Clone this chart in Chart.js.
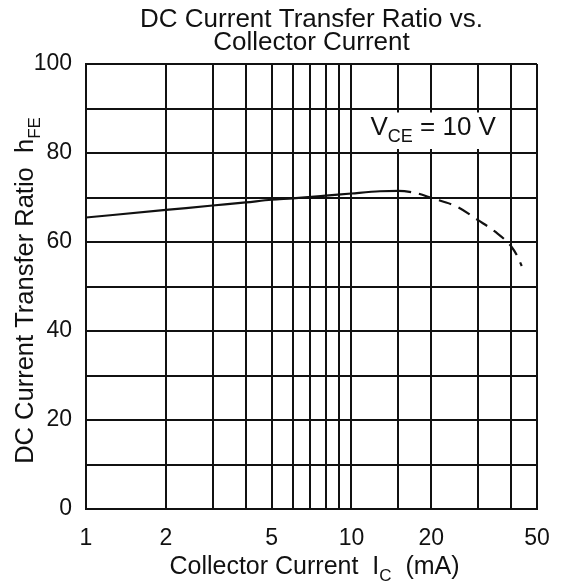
<!DOCTYPE html>
<html>
<head>
<meta charset="utf-8">
<script src="https://cdn.jsdelivr.net/npm/chart.js@4/dist/chart.umd.min.js"></script>
<style>
  html, body { margin: 0; padding: 0; background: #fff; }
  #wrap { width: 566px; height: 583px; }
</style>
</head>
<body>
<div id="wrap"><canvas id="c" width="566" height="583"></canvas></div>
<script>
// ---- data ----
const currentMA = [1, 2, 3, 4, 5, 6, 8, 10, 12.8, 15, 17.5, 20, 25, 30, 35, 40, 42, 43.8];
const hFE       = [65.5, 67.2, 68.2, 68.9, 69.5, 69.8, 70.4, 70.9, 71.4, 71.5, 71.0, 69.9, 67.9, 64.9, 62.2, 59.0, 57.0, 54.6];
const dashedFromMA = 15;
const xTickLabels = [1, 2, 5, 10, 20, 50];
const yTickLabels = [0, 20, 40, 60, 80, 100];
const titleLines = ['DC Current Transfer Ratio vs.', 'Collector Current'];

const FONT = '"Liberation Sans", Arial, Helvetica, sans-serif';

function drawRich(ctx, parts, x, y, size, subSize, subDrop, align) {
  let total = 0;
  for (const p of parts) {
    ctx.font = (p.sub ? subSize : size) + 'px ' + FONT;
    total += ctx.measureText(p.t).width;
  }
  let cx = align === 'center' ? x - total / 2 : x;
  ctx.textAlign = 'left';
  ctx.textBaseline = 'alphabetic';
  for (const p of parts) {
    ctx.font = (p.sub ? subSize : size) + 'px ' + FONT;
    ctx.fillText(p.t, cx, y + (p.sub ? subDrop : 0));
    cx += ctx.measureText(p.t).width;
  }
}

const textPlugin = {
  id: 'texts',
  afterDraw(chart) {
    const ctx = chart.ctx;
    const xs = chart.scales.x, ys = chart.scales.y;
    const area = chart.chartArea;
    ctx.save();
    // annotation box
    const bl = xs.getPixelForValue(10) + 6;
    const br = xs.getPixelForValue(40) - 4;
    const bt = ys.getPixelForValue(90) + 4;
    const bb = ys.getPixelForValue(80) - 4;
    ctx.fillStyle = '#fff';
    ctx.fillRect(bl, bt, br - bl, bb - bt);
    ctx.fillStyle = '#111';
    drawRich(ctx, [{t: 'V'}, {t: 'CE', sub: true}, {t: ' = 10 V'}], bl + 13, bb - 14, 26, 18, 7, 'left');
    // x axis title
    drawRich(ctx, [{t: 'Collector Current  I'}, {t: 'C', sub: true}, {t: '  (mA)'}],
      (area.left + area.right) / 2 + 3, 574, 25, 17, 7, 'center');
    // y axis title
    ctx.translate(33, (area.top + area.bottom) / 2 + 4);
    ctx.rotate(-Math.PI / 2);
    drawRich(ctx, [{t: 'DC Current Transfer Ratio  h'}, {t: 'FE', sub: true}], 0, 0, 25.5, 17, 7, 'center');
    ctx.restore();
  }
};

const near = (arr, v) => arr.some(a => Math.abs(a - v) < 1e-6);

new Chart(document.getElementById('c'), {
  type: 'line',
  data: {
    datasets: [{
      data: currentMA.map((x, i) => ({x, y: hFE[i]})),
      borderColor: '#111',
      borderWidth: 2.2,
      pointRadius: 0,
      cubicInterpolationMode: 'monotone',
      fill: false,
      segment: {
        borderDash: ctx => ctx.p0.parsed.x >= dashedFromMA - 1e-9 ? [13, 8] : undefined
      }
    }]
  },
  options: {
    responsive: false,
    animation: false,
    devicePixelRatio: 1,
    layout: { padding: { left: 0, right: 29, top: 0, bottom: 0 } },
    plugins: {
      legend: { display: false },
      tooltip: { enabled: false },
      title: {
        display: true,
        fullSize: false,
        text: titleLines,
        color: '#111',
        font: { family: FONT, size: 26, weight: 'normal', lineHeight: 0.9 },
        padding: { top: 8, bottom: 9.2 }
      }
    },
    scales: {
      x: {
        type: 'logarithmic',
        min: 1,
        max: 50,
        grid: { color: '#111', lineWidth: 2, drawTicks: false },
        border: { color: '#111', width: 2 },
        ticks: {
          autoSkip: false,
          maxRotation: 0,
          padding: 16,
          color: '#111',
          font: { family: FONT, size: 23 },
          callback: v => near(xTickLabels, v) ? String(Math.round(v)) : ''
        },
        afterFit: s => { s.height = 74; }
      },
      y: {
        type: 'linear',
        min: 0,
        max: 100,
        grid: { color: '#111', lineWidth: 2, drawTicks: false },
        border: { color: '#111', width: 2 },
        ticks: {
          stepSize: 10,
          padding: 14,
          color: '#111',
          font: { family: FONT, size: 23 },
          callback: v => near(yTickLabels, v) ? String(v) : ''
        },
        afterFit: s => { s.width = 86; }
      }
    }
  },
  plugins: [textPlugin]
});
</script>
</body>
</html>
